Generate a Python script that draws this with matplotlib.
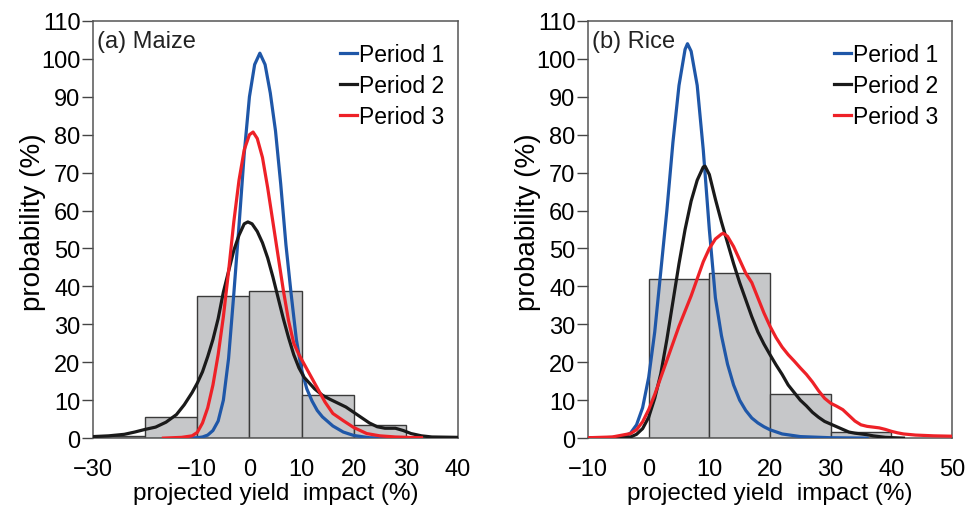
import matplotlib
matplotlib.use("Agg")
import matplotlib.pyplot as plt

# histogram (bin edges every 10 %)
maize_bins = [-30, -20, -10, 0, 10, 20, 30]
maize_hist = [0.6, 5.6, 37.5, 38.8, 11.3, 3.4]
rice_bins = [0, 10, 20, 30, 40]
rice_hist = [42.0, 43.6, 11.7, 1.6]

# maize curves
maize_p1_x = [-14, -10, -9, -8, -7, -6, -5, -4, -3, -2, -1, 0, 1, 2, 3, 4, 5, 6, 7, 8, 9, 10,
              11, 12, 13, 14, 16, 18, 20, 23, 26]
maize_p1_y = [0, 0.1, 0.3, 0.8, 2.0, 4.5, 10, 21, 38, 56, 75, 90, 98.5, 101.5, 98.5, 91, 81, 67, 51, 38, 26, 18,
              13, 9.8, 7.3, 5.6, 3.2, 1.6, 0.7, 0.1, 0]
maize_p2_x = [-30, -27, -24, -22, -20, -18, -16, -14, -12.5, -11, -10, -9, -8, -7, -6, -5, -4, -3, -2, -1,
              -0.3, 0.5, 1.5, 2.5, 3.5, 4.5, 5.5, 6.5, 7.5, 8.5, 9.5, 10.5, 11.5, 12.5, 14, 15.5, 17, 18.5,
              20, 21.5, 23, 24.5, 26, 28, 29.5, 31, 33, 35, 40]
maize_p2_y = [0.4, 0.6, 1.0, 1.6, 2.3, 2.9, 4.2, 6.2, 8.8, 12, 14.5, 17.5, 21.5, 26, 31.5, 38.5, 44, 49.5, 53.5, 56.5,
              57, 56.5, 54.5, 51.5, 47.5, 42.5, 37, 31.5, 26.5, 22, 18.5, 16, 14.5, 13, 11.3, 10.2, 9.2, 8.2,
              6.8, 5.4, 4.0, 3.0, 2.6, 2.6, 2.0, 1.2, 0.6, 0.3, 0.2]
maize_p3_x = [-16.5, -13, -11, -10, -9, -8, -7, -6, -5, -4, -3, -2, -1, 0, 0.7, 1.5, 2.5, 3.5, 4.5, 5.5, 6.5,
              7.5, 8.5, 9.5, 10.5, 11.5, 12.5, 13.5, 14.5, 16, 18, 20, 22.5, 25, 28, 33]
maize_p3_y = [0, 0.2, 0.6, 1.5, 4, 8, 14, 22, 32, 44, 57, 68, 76, 80, 80.7, 79, 74, 66, 57, 48, 39,
              31, 25, 22, 19.5, 17, 14.5, 12, 9.5, 6.5, 4.6, 2.8, 1.2, 0.6, 0.3, 0.1]

# rice curves
rice_p1_x = [-10, -6, -4, -3, -2, -1, 0, 1, 2, 3, 4, 5, 6, 6.4, 7, 8, 9, 10, 11, 12, 13, 14, 15, 16, 17,
             18, 19, 20, 22, 25, 30, 36]
rice_p1_y = [0, 0.1, 0.5, 1.3, 3.5, 8, 16, 28, 44, 60, 78, 93, 102.5, 104, 102, 93, 76, 55, 37, 27, 19.5,
             14, 10, 7.3, 5.3, 4.0, 3.0, 2.2, 1.1, 0.4, 0.1, 0]
rice_p2_x = [-10, -3, -2, -1, 0, 1, 2, 3, 4, 5, 6, 7, 8, 9, 9.3, 10, 11, 12, 13, 14, 15, 16, 17, 18, 19,
             20, 21, 22, 23, 24, 25, 26, 27, 28, 29, 30, 31, 32, 33, 34, 35, 36, 37, 39, 42]
rice_p2_y = [0, 0.3, 1.0, 2.5, 5.5, 10.5, 17, 26, 36, 46, 55, 62.5, 68, 71.5, 71.7, 69.5, 63, 57, 51.5, 46,
             41, 36.5, 32, 28, 24.8, 22, 19.3, 16.8, 14, 12, 10, 8.5, 6.8, 5.5, 4.4, 3.7, 3.0, 2.3, 1.6,
             1.3, 1.1, 0.9, 0.6, 0.2, 0]
rice_p3_x = [-10, -6, -3, -2, -1, 0, 1, 2, 3, 4, 5, 6, 7, 8, 9, 10, 11, 12, 12.3, 13, 14, 15, 16, 17, 18,
             19, 20, 21, 22, 23, 24, 25, 26, 27, 28, 29, 30, 31, 32, 33, 34, 35, 36, 37, 38, 39, 40, 41,
             42, 44, 47, 50]
rice_p3_y = [0.1, 0.3, 1.2, 2.2, 4.3, 7.5, 11.5, 16, 20.5, 25, 29.5, 33.5, 37.5, 42, 46.5, 50, 52.5, 53.8, 54,
             53.2, 50.5, 47, 43.5, 41, 37, 33, 29.5, 26.5, 24, 22, 20.3, 18.5, 16.8, 14.8, 12.5, 10.5, 9.2,
             8.4, 7.5, 6.0, 4.5, 3.5, 3.1, 2.9, 2.7, 2.3, 1.8, 1.4, 1.1, 0.8, 0.6, 0.5]

maize_ticks = [-30, -10, 0, 10, 20, 30, 40]
rice_ticks = [-10, 0, 10, 20, 30, 40, 50]

plt.rcParams['font.family'] = ['Liberation Sans', 'DejaVu Sans']

blue = '#1f57a8'
black = '#1a1a1a'
red = '#ee2127'

fig = plt.figure(figsize=(9.66, 5.10), dpi=100)
ax1 = fig.add_axes([0.0963, 0.139, 0.3778, 0.818])
ax2 = fig.add_axes([0.6087, 0.139, 0.3768, 0.818])


def panel(ax, bins, hist, curves, xlim, ticks, title):
    ax.hist(bins[:-1], bins=bins, weights=hist, color='#c6c7c9', edgecolor='#3a3a3a', linewidth=1.0, zorder=1)
    for (x, y), c, lab in zip(curves, [blue, black, red], ['Period 1', 'Period 2', 'Period 3']):
        ax.plot(x, y, color=c, lw=2.3, label=lab, zorder=3, solid_joinstyle='round')
    ax.set_xlim(*xlim)
    ax.set_ylim(0, 110)
    ax.set_yticks(range(0, 111, 10))
    ax.set_xticks(ticks)
    ax.set_xticklabels([str(t).replace('-', '\u2212') for t in ticks])
    ax.tick_params(axis='x', length=0, pad=14, labelsize=17)
    ax.tick_params(axis='y', length=8, width=1, color='#444444', pad=1, labelsize=17)
    for s in ax.spines.values():
        s.set_color('#555555')
        s.set_linewidth(1.1)
    ax.set_xlabel('projected yield  impact (%)', fontsize=17.5, labelpad=2)
    ax.set_ylabel('probability (%)', fontsize=20)
    ax.yaxis.set_label_coords(-0.128, 0.52)
    ax.text(0.012, 0.978, title, transform=ax.transAxes, fontsize=17, va='top', ha='left', color='#222222')
    ax.legend(loc='upper right', bbox_to_anchor=(1.005, 0.985), frameon=False, fontsize=16.5,
              handlelength=0.75, handletextpad=0.06, labelspacing=0.35, borderaxespad=0.3)


panel(ax1, maize_bins, maize_hist,
      [(maize_p1_x, maize_p1_y), (maize_p2_x, maize_p2_y), (maize_p3_x, maize_p3_y)],
      (-30, 40), maize_ticks, '(a) Maize')
panel(ax2, rice_bins, rice_hist,
      [(rice_p1_x, rice_p1_y), (rice_p2_x, rice_p2_y), (rice_p3_x, rice_p3_y)],
      (-10, 50), rice_ticks, '(b) Rice')

fig.savefig('out.png', dpi=100)
